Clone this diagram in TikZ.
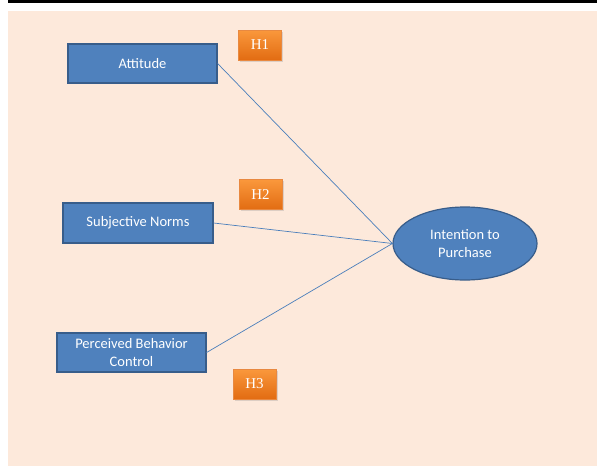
\documentclass[tikz,border=0pt]{standalone}
\usepackage{fontspec}
\setmainfont{Carlito}
\newfontfamily\hfont{Liberation Serif}
\usetikzlibrary{shapes.geometric,shadows}

\definecolor{pagebg}{RGB}{253,233,219}
\definecolor{boxblue}{RGB}{79,129,189}
\definecolor{boxline}{RGB}{56,93,138}
\definecolor{linkblue}{RGB}{74,126,187}
\definecolor{hypotop}{RGB}{250,152,60}
\definecolor{hypobot}{RGB}{226,108,18}

\tikzset{
  construct/.style = {rectangle,
      draw = boxline,
      line width = 1.2pt,
      fill = boxblue,
      text = white,
      font = \fontsize{14.5}{17.5}\selectfont,
      align = center,
      minimum width = 149pt,
      minimum height = 39pt},
  hypo/.style = {rectangle,
      top color = hypotop,
      bottom color = hypobot,
      draw = hypobot!80!white,
      line width = 0.6pt,
      text = white,
      font = \hfont\fontsize{15}{18}\selectfont,
      minimum width = 43pt,
      minimum height = 30pt,
      drop shadow = {opacity = 0.25, shadow xshift = 1.5pt, shadow yshift = -1.5pt}},
  link/.style = {draw = linkblue, line width = 0.7pt}
}

\begin{document}
\begin{tikzpicture}[x=1pt, y=-1pt]
\useasboundingbox (0,0) rectangle (597,466);

% page
\fill[pagebg] (8,11) rectangle (597,466);
\fill[black] (8,0) rectangle (597,2.5);

% predictors
\node[construct] (att) at (142.5,63.5) {Attitude};
\node[construct, minimum width = 150pt, minimum height = 40pt] (norms) at (138,223) {Subjective Norms};
\node[construct] (pbc) at (131.5,352.5) {Perceived Behavior\\Control};

% outcome
\node[ellipse,
    draw = boxline,
    line width = 1.2pt,
    fill = boxblue,
    text = white,
    font = \fontsize{14.5}{17.5}\selectfont,
    align = center,
    inner sep = 0pt,
    minimum width = 144pt,
    minimum height = 73pt] (intent) at (465,243.5) {Intention to\\Purchase};

% hypotheses
\node[hypo] (h1) at (260,45) {H1};
\node[hypo] (h2) at (260.5,194.5) {H2};
\node[hypo] (h3) at (254.5,384) {H3};

% paths
\draw[link] (att.east) -- (intent.west);
\draw[link] (norms.east) -- (intent.west);
\draw[link] (pbc.east) -- (intent.west);

\end{tikzpicture}
\end{document}
